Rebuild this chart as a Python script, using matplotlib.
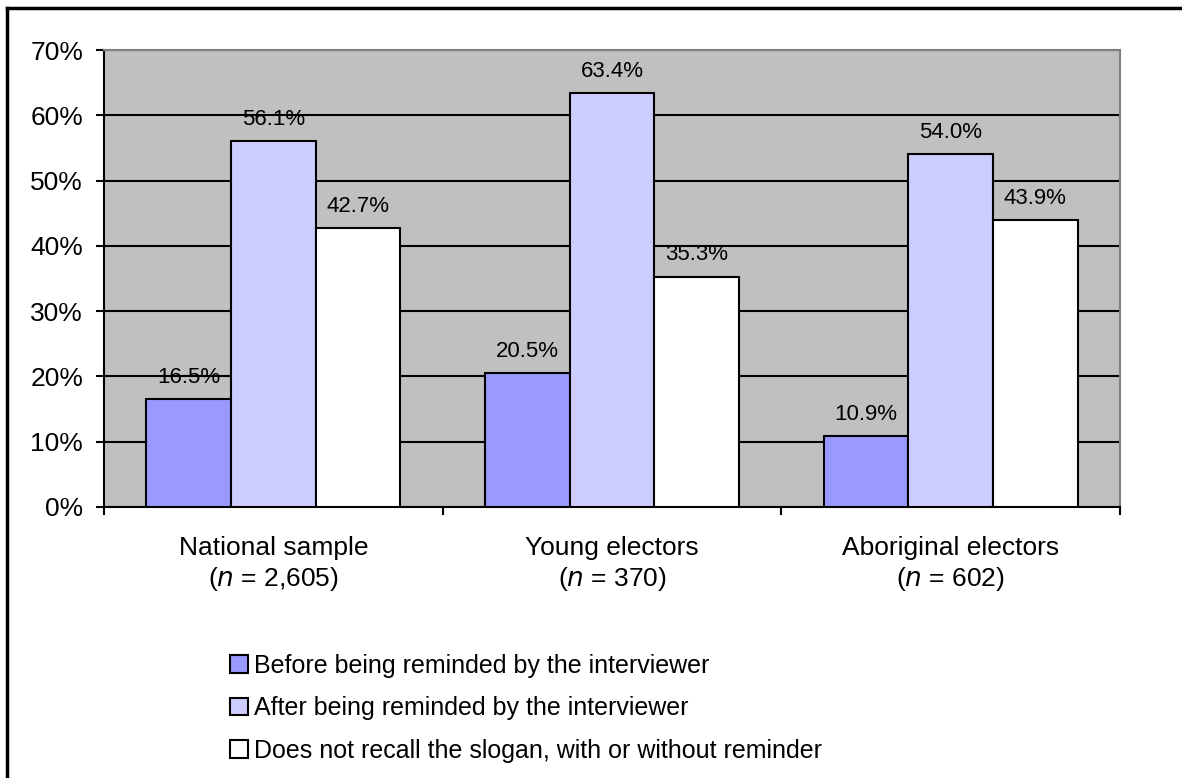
import matplotlib
matplotlib.use("Agg")
import matplotlib.pyplot as plt
from matplotlib.lines import Line2D
import numpy as np

plt.rcParams['font.family'] = ['Liberation Sans', 'DejaVu Sans']

categories = ["National sample\n($\\it{n}$ = 2,605)", "Young electors\n($\\it{n}$ = 370)", "Aboriginal electors\n($\\it{n}$ = 602)"]
series_names = ["Before being reminded by the interviewer",
                "After being reminded by the interviewer",
                "Does not recall the slogan, with or without reminder"]
before = [16.5, 20.5, 10.9]
after = [56.1, 63.4, 54.0]
not_recall = [42.7, 35.3, 43.9]
colors = ["#9999FF", "#CCCCFF", "#FFFFFF"]
yticks = [0, 10, 20, 30, 40, 50, 60, 70]

fig = plt.figure(figsize=(11.82, 7.78), dpi=100)
ax = fig.add_axes([104/1182, 1 - 507/778, (1120-104)/1182, (507-50)/778])
ax.set_facecolor("#C0C0C0")

x = np.arange(len(categories))
w = 0.25
data = [before, after, not_recall]
for i, (vals, c, name) in enumerate(zip(data, colors, series_names)):
    bars = ax.bar(x + (i - 1) * w, vals, width=w, color=c, edgecolor="black",
                  linewidth=1.5, label=name, zorder=3)
    for b, v in zip(bars, vals):
        ax.annotate(f"{v:.1f}%", (b.get_x() + b.get_width() / 2, v),
                    xytext=(0, 8), textcoords="offset points",
                    ha="center", va="bottom", fontsize=16, zorder=4)

ax.set_xlim(-0.5, 2.5)
ax.set_ylim(0, 70)
ax.set_yticks(yticks)
ax.set_yticklabels([f"{t}%" for t in yticks], fontsize=19)
ax.yaxis.grid(True, color="black", linewidth=1.5, zorder=1)
ax.set_axisbelow(True)

ax.set_xticks([-0.5, 0.5, 1.5, 2.5])
ax.set_xticklabels([])
ax.set_xticks(x, minor=True)
ax.set_xticklabels(categories, minor=True, fontsize=19, linespacing=1.25)
ax.tick_params(axis="x", which="minor", length=0, pad=21)
ax.tick_params(axis="x", which="major", length=6, width=1.5, direction="out")
ax.tick_params(axis="y", length=6, width=1.5, direction="out", pad=9)

for s in ["top", "right"]:
    ax.spines[s].set_color("#808080")
    ax.spines[s].set_linewidth(1.5)
for s in ["left", "bottom"]:
    ax.spines[s].set_color("black")
    ax.spines[s].set_linewidth(1.5)

handles, labels = ax.get_legend_handles_labels()
leg = fig.legend(handles, labels, loc="upper left",
                 bbox_to_anchor=(217/1182, 1 - 641/778),
                 frameon=False, fontsize=18, handlelength=0.72, handleheight=0.72,
                 handletextpad=0.28, labelspacing=0.75, borderpad=0)

# outer border (top and left visible)
fig.add_artist(Line2D([7/1182, 1.0], [1 - 8/778, 1 - 8/778], color="black", linewidth=2.5))
fig.add_artist(Line2D([7/1182, 7/1182], [0, 1 - 8/778], color="black", linewidth=2.5))

fig.savefig("out.png", dpi=100)
